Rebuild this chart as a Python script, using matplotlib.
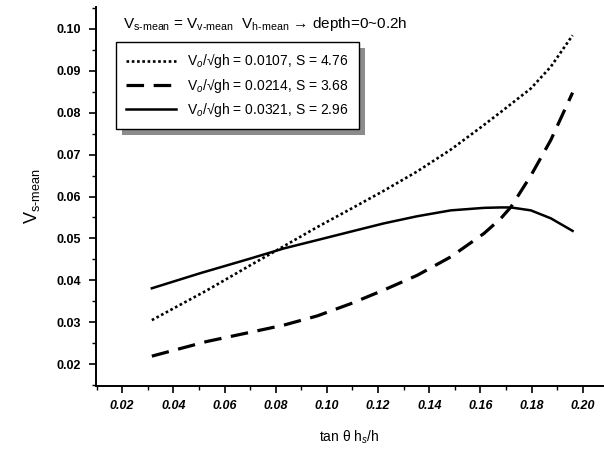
import matplotlib
matplotlib.use("Agg")
import matplotlib.pyplot as plt
from matplotlib.ticker import MultipleLocator, FormatStrFormatter
from matplotlib.patches import Rectangle

plt.rcParams['font.family'] = ['Liberation Sans', 'DejaVu Sans']
plt.rcParams['mathtext.fontset'] = 'custom'
plt.rcParams['mathtext.rm'] = 'Liberation Sans'
plt.rcParams['mathtext.it'] = 'Liberation Sans:italic'

# data
x_dot = [0.0316, 0.0531, 0.0701, 0.0799, 0.0962, 0.1092, 0.1223, 0.1353, 0.1484, 0.1601, 0.1680, 0.1797, 0.1875, 0.1960]
y_dot = [0.0305, 0.0376, 0.0436, 0.0470, 0.0527, 0.0570, 0.0614, 0.0660, 0.0712, 0.0765, 0.0802, 0.0858, 0.0910, 0.0985]

x_dash = [0.0316, 0.0531, 0.0701, 0.0831, 0.0962, 0.1092, 0.1223, 0.1353, 0.1484, 0.1614, 0.1680, 0.1719, 0.1797, 0.1875, 0.1960]
y_dash = [0.0219, 0.0254, 0.0276, 0.0293, 0.0315, 0.0344, 0.0377, 0.0412, 0.0456, 0.0512, 0.0548, 0.0575, 0.0650, 0.0735, 0.0848]

x_sol = [0.0316, 0.0505, 0.0701, 0.0831, 0.0962, 0.1092, 0.1223, 0.1353, 0.1484, 0.1614, 0.1680, 0.1719, 0.1797, 0.1875, 0.1960]
y_sol = [0.0381, 0.0417, 0.0452, 0.0476, 0.0496, 0.0516, 0.0536, 0.0553, 0.0567, 0.0573, 0.0574, 0.0574, 0.0567, 0.0548, 0.0518]

labels = [r"V$_o$/√gh = 0.0107, S = 4.76",
          r"V$_o$/√gh = $\mathit{0.0214}$, S = $\mathit{3.68}$",
          r"V$_o$/√gh = 0.0321, S = 2.96"]

xticks = [0.02, 0.04, 0.06, 0.08, 0.10, 0.12, 0.14, 0.16, 0.18, 0.20]
yticks = [0.02, 0.03, 0.04, 0.05, 0.06, 0.07, 0.08, 0.09, 0.10]

fig = plt.figure(figsize=(6.04, 4.5), dpi=100)
ax = fig.add_axes([0.159, 0.142, 0.839, 0.842])

l1, = ax.plot(x_dot, y_dot, color='black', lw=1.9, linestyle=(0, (1, 1)))
l2, = ax.plot(x_dash, y_dash, color='black', lw=2.3, linestyle=(0, (5.5, 3)))
l3, = ax.plot(x_sol, y_sol, color='black', lw=1.8, linestyle='-')

ax.set_xlim(0.0098, 0.2078)
ax.set_ylim(0.01475, 0.1052)
ax.set_xticks(xticks)
ax.set_yticks(yticks)
ax.xaxis.set_minor_locator(MultipleLocator(0.01))
ax.yaxis.set_minor_locator(MultipleLocator(0.005))
ax.xaxis.set_major_formatter(FormatStrFormatter('%.2f'))
ax.yaxis.set_major_formatter(FormatStrFormatter('%.2f'))
ax.tick_params(axis='both', which='major', direction='out', length=5, width=1.2, labelsize=9)
ax.tick_params(axis='both', which='minor', direction='out', length=3, width=1.0)
ax.tick_params(axis='y', which='major', pad=6)
ax.tick_params(axis='x', which='major', pad=5)
for t in ax.get_xticklabels():
    t.set_fontstyle('italic')
    t.set_fontweight('bold')
for t in ax.get_yticklabels():
    t.set_fontweight('bold')

for s in ['top', 'right']:
    ax.spines[s].set_visible(False)
for s in ['left', 'bottom']:
    ax.spines[s].set_linewidth(1.4)

ax.set_ylabel(r"V$_{\mathrm{s‐mean}}$", fontsize=13, labelpad=10)
ax.set_xlabel(r"tan θ h$_{s}$/h", fontsize=10, labelpad=12)

leg = ax.legend([l1, l2, l3], labels, loc='upper left', bbox_to_anchor=(0.039, 0.908),
                fontsize=10, handlelength=3.6, handletextpad=0.8, labelspacing=0.45,
                frameon=True, fancybox=False, shadow=False, borderpad=0.75,
                borderaxespad=0)
leg.get_frame().set_edgecolor('black')
leg.get_frame().set_linewidth(1.0)
leg.get_frame().set_alpha(1.0)
leg.set_zorder(6)

fig.canvas.draw()
bb = leg.get_window_extent().transformed(ax.transAxes.inverted())
dx = 6 / (ax.bbox.width)
dy = 6 / (ax.bbox.height)
shadow = Rectangle((bb.x0 + dx, bb.y0 - dy), bb.width, bb.height, transform=ax.transAxes,
                   facecolor='0.55', edgecolor='none', zorder=5, clip_on=False)
ax.add_patch(shadow)

fig.text(0.204, 0.947, r"V$_{\mathrm{s‐mean}}$ = V$_{\mathrm{v‐mean}}$  V$_{\mathrm{h‐mean}}$ → depth=0~0.2h",
         fontsize=11, ha='left', va='center')

fig.savefig('out.png', dpi=100)
